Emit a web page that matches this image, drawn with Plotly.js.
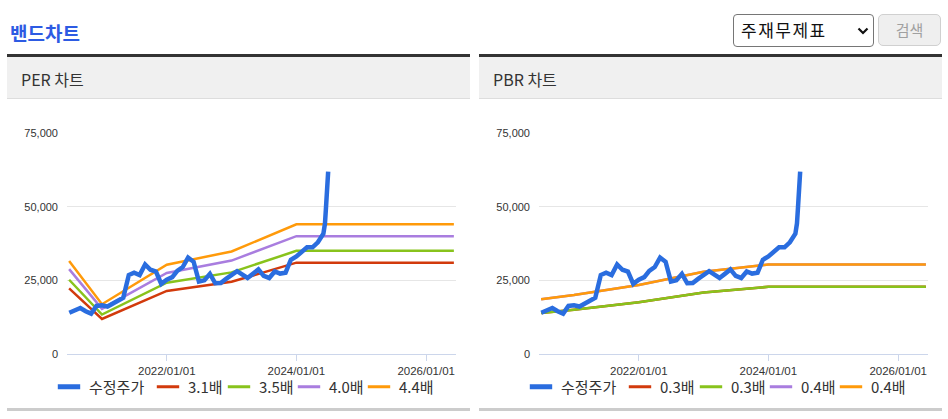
<!DOCTYPE html>
<html>
<head>
<meta charset="utf-8">
<script src="https://cdn.plot.ly/plotly-3.0.1.min.js"></script>
<style>
  html, body { margin:0; padding:0; background:#fff; width:948px; height:419px; overflow:hidden; font-family:"Noto Sans CJK KR", sans-serif; }
  #title { position:absolute; left:10px; top:20px; font-size:19px; font-weight:bold; color:#2d5be3; line-height:26px; }
  #sel { position:absolute; left:733px; top:14px; width:139px; height:31px; border:1px solid #767676; border-radius:4px; box-sizing:content-box; }
  #sel span { position:absolute; left:7px; top:4px; font-size:17px; letter-spacing:1.5px; color:#111; line-height:22px; }
  #sel svg { position:absolute; left:123px; top:12px; }
  #btn { position:absolute; left:878px; top:14px; width:61px; height:30px; border:1px solid #d0d0d0; border-radius:5px; background:#efefef; color:#a0a0a0; font-size:15px; text-align:center; line-height:30px; }
  .panel { position:absolute; top:54px; width:463px; height:356px; }
  .panel .topline { position:absolute; left:0; top:0; width:100%; height:3px; background:#333; }
  .panel .head { position:absolute; left:0; top:3px; width:100%; height:41px; background:#f0f0f0; border-bottom:1px solid #dddddd; }
  .panel .head span { position:absolute; left:14px; top:12px; font-size:16px; color:#333; line-height:20px; }
  .panel .chart { position:absolute; left:0; top:45px; width:463px; height:307px; }
  .panel .bottomline { position:absolute; left:0; top:354px; width:100%; height:3px; background:#cccccc; }
</style>
</head>
<body>
<div id="title">밴드차트</div>
<div id="sel"><span>주재무제표</span><svg width="12" height="8" viewBox="0 0 12 8"><path d="M1.5 1.5 L6 6 L10.5 1.5" fill="none" stroke="#111" stroke-width="2.2"/></svg></div>
<div id="btn">검색</div>

<div class="panel" style="left:7px;">
  <div class="topline"></div>
  <div class="head"><span>PER 차트</span></div>
  <div class="chart" id="per"></div>
  <div class="bottomline"></div>
</div>
<div class="panel" style="left:479px;">
  <div class="topline"></div>
  <div class="head"><span>PBR 차트</span></div>
  <div class="chart" id="pbr"></div>
  <div class="bottomline"></div>
</div>

<script>
// ---- data ----
const priceName = '수정주가';
const priceDates = [
  '2020-07-01','2020-08-01','2020-09-01','2020-10-01','2020-11-01','2020-12-01',
  '2021-01-01','2021-02-01','2021-03-01','2021-04-01','2021-05-01','2021-06-01',
  '2021-07-01','2021-08-01','2021-09-01','2021-10-01','2021-11-01','2021-12-01',
  '2022-01-01','2022-02-01','2022-03-01','2022-04-01','2022-05-01','2022-06-01',
  '2022-07-01','2022-08-01','2022-09-01','2022-10-01','2022-11-01','2022-12-01',
  '2023-01-01','2023-02-01','2023-03-01','2023-04-01','2023-05-01','2023-06-01',
  '2023-07-01','2023-08-01','2023-09-01','2023-10-01','2023-11-01','2023-12-01',
  '2024-01-01','2024-02-01','2024-03-01','2024-04-01','2024-05-01','2024-06-01',
  '2024-06-10','2024-06-15','2024-06-20','2024-06-28'
];
const priceValues = [
  14000,14600,15600,14500,13700,16300,
  16500,16100,17100,18300,19100,26800,
  27600,26800,30400,28600,28000,23800,
  25200,26100,28200,29500,32700,31300,
  24600,25000,27200,24000,24100,25500,
  27000,28100,27000,25800,27200,28700,
  26500,25800,28000,27300,27600,32000,
  33100,34700,36200,36200,37900,40800,
  44300,49000,54500,61900
];

const bandDates = ['2020-06-30','2021-01-01','2022-01-01','2023-01-01','2024-01-01','2026-06-06'];

const perNames = ['3.1배','3.5배','4.0배','4.4배'];
const per31 = [22300, 11900, 21400, 24500, 31000, 31000];
const per35 = [25200, 13400, 24200, 27700, 35000, 35000];
const per40 = [28800, 15300, 27500, 31700, 40000, 40000];
const per44 = [31600, 16900, 30300, 34800, 44000, 44000];

const pbrNames = ['0.3배','0.3배','0.4배','0.4배'];
const pbr03a = [13950, 15000, 17550, 20900, 22800, 22800];
const pbr03b = [13950, 15000, 17550, 20900, 22800, 22800];
const pbr04a = [18600, 20000, 23400, 27900, 30400, 30400];
const pbr04b = [18600, 20000, 23400, 27900, 30400, 30400];

const yTicks = [0, 25000, 50000, 75000];

// ---- styles ----
const priceColor = '#2a6ddf';
const bandColors = ['#d23a0c', '#88c31c', '#a97ddf', '#ff9a0a'];
const legendSlots = [54, 26, 25, 25, 37];

function build(divId, bands, names) {
  const traces = [];
  bands.forEach((vals, i) => {
    traces.push({
      type:'scatter', mode:'lines', x: bandDates, y: vals,
      line:{color: bandColors[i], width:2.5}, showlegend:false, hoverinfo:'skip'
    });
  });
  traces.push({
    type:'scatter', mode:'lines', x: priceDates, y: priceValues,
    line:{color: priceColor, width:4.5, shape:'linear'}, showlegend:false, hoverinfo:'skip'
  });
  const legendNames = [priceName].concat(names);
  const legendColors = [priceColor].concat(bandColors);
  legendNames.forEach((n, i) => {
    traces.push({
      type:'scatter', mode:'markers', x:[null], y:[null], name:n,
      legendwidth: legendSlots[i],
      marker:{symbol:'line-ew', size:16, color: legendColors[i], line:{color: legendColors[i], width: i===0 ? 5 : 3}},
      showlegend:true, hoverinfo:'skip'
    });
  });
  const tickFont = {family:'Liberation Sans, Arial, sans-serif', size:11, color:'#333'};
  const layout = {
    width:463, height:307,
    margin:{l:60, r:14, t:34, b:52},
    paper_bgcolor:'#fff', plot_bgcolor:'#fff',
    xaxis:{
      type:'date', range:['2020-06-18','2026-06-18'],
      tick0:'2022-01-01', dtick:'M24', tickformat:'%Y/%m/%d',
      showgrid:false, zeroline:false, showline:true, linecolor:'#ccd6eb', linewidth:1,
      ticks:'outside', ticklen:6, tickcolor:'#ccd6eb', tickfont: Object.assign({}, tickFont, {size:11.5}),
      fixedrange:true
    },
    yaxis:{
      range:[0,75000], tickvals: yTicks, tickformat:',d',
      showgrid:true, gridcolor:'#e6e6e6', gridwidth:1, zeroline:false, showline:false,
      ticks:'', tickfont: tickFont, ticklabelstandoff:8, fixedrange:true
    },
    showlegend:true,
    legend:{
      orientation:'h', xref:'container', yref:'container',
      x:0.0907, xanchor:'left', y:0.062, yanchor:'middle',
      font:{family:'Noto Sans CJK KR, sans-serif', size:15, color:'#333'},
      bgcolor:'rgba(0,0,0,0)', traceorder:'normal'
    }
  };
  Plotly.newPlot(divId, traces, layout, {displayModeBar:false, staticPlot:true});
}

build('per', [per31, per35, per40, per44], perNames);
build('pbr', [pbr03a, pbr03b, pbr04a, pbr04b], pbrNames);
</script>
</body>
</html>
